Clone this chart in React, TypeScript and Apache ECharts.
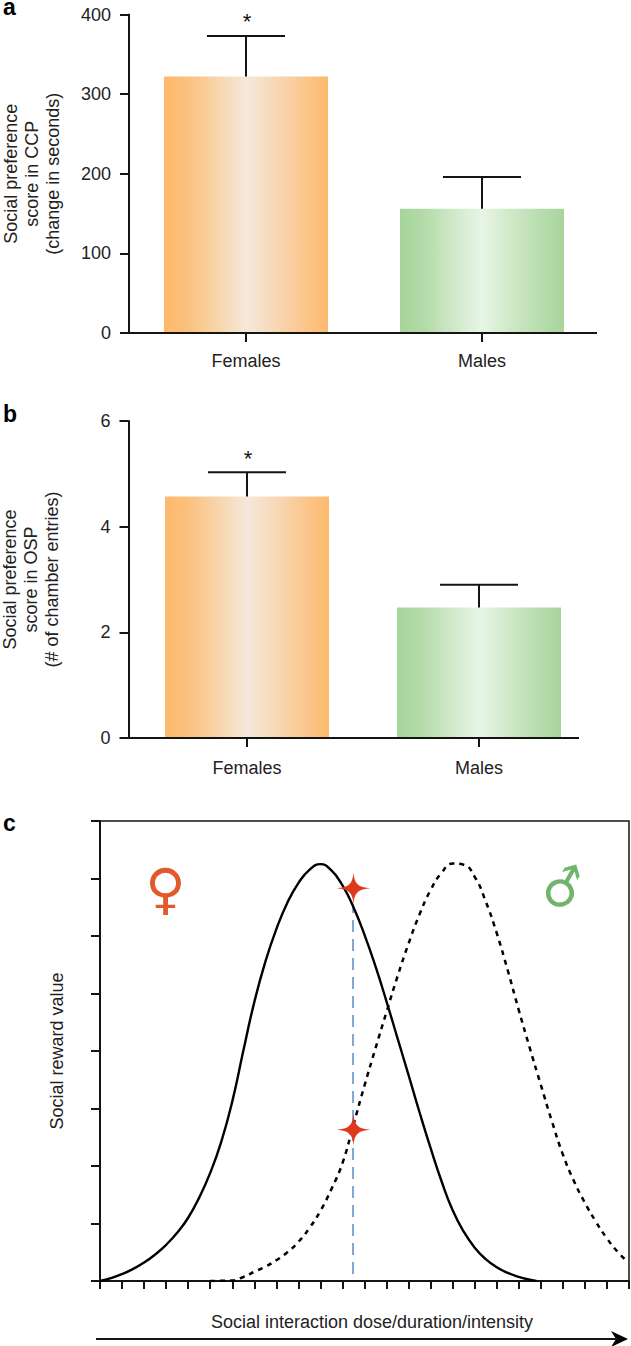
import React, { useEffect, useRef } from "react";
import * as echarts from "echarts";

const FONT = '"Liberation Sans", Arial, sans-serif';
const INK = "#141414";

const categories = ["Females", "Males"];
const ccpValues = [322, 156];
const ccpErrorTops = [373, 196];
const ccpSignificant = ["*", ""];
const ospValues = [4.57, 2.47];
const ospErrorTops = [5.03, 2.9];
const ospSignificant = ["*", ""];
const ccpTitle = "Social preference\nscore in CCP\n(change in seconds)";
const ospTitle = "Social preference\nscore in OSP\n(# of chamber entries)";

const femaleCurve: number[][] = [
  [0, 0], [0.5, 0.05], [1, 0.12], [1.5, 0.21], [2, 0.32], [2.5, 0.46], [3, 0.63], [3.5, 0.84], [4, 1.1],
  [4.5, 1.45], [5, 1.88], [5.5, 2.42], [6, 3.12], [6.5, 4.0], [7, 4.85], [7.5, 5.55], [8, 6.12], [8.5, 6.58],
  [9, 6.92], [9.5, 7.15], [10, 7.25], [10.5, 7.14], [11, 6.88], [11.5, 6.5], [12, 6.02], [12.5, 5.47],
  [13, 4.86], [13.5, 4.22], [14, 3.58], [14.5, 2.93], [15, 2.31], [15.5, 1.73], [16, 1.23], [16.5, 0.86],
  [17, 0.58], [17.5, 0.38], [18, 0.24], [18.5, 0.14], [19, 0.07], [19.4, 0.03], [19.8, 0],
];
const maleCurve: number[][] = [
  [5, 0], [6, 0.01], [6.5, 0.07], [7, 0.16], [7.5, 0.25], [8, 0.36], [8.5, 0.5], [9, 0.68], [9.5, 0.92],
  [10, 1.22], [10.5, 1.6], [11, 2.05], [11.5, 2.72], [12, 3.4], [12.5, 4.05], [13, 4.68], [13.5, 5.3],
  [14, 5.87], [14.5, 6.38], [15, 6.8], [15.5, 7.1], [16, 7.26], [16.5, 7.24], [17, 7.03], [17.5, 6.6],
  [18, 6.05], [18.5, 5.4], [19, 4.71], [19.5, 4.05], [20, 3.41], [20.5, 2.78], [21, 2.2], [21.5, 1.74],
  [22, 1.36], [22.5, 1.03], [23, 0.74], [23.5, 0.5], [23.9, 0.35],
];
const doseLine: number[][] = [[11.48, 0.12], [11.48, 6.54]];
const stars: number[][] = [[11.5, 6.83], [11.5, 2.63]];

const STAR = "path://M50 0C52 36 64 48 100 50C64 52 52 64 50 100C48 64 36 52 0 50C36 48 48 36 50 0Z";

const stops = (list: string[]) => list.map((color, i) => ({ offset: [0, 0.15, 0.32, 0.5, 0.68, 0.85, 1][i], color }));
const orange = new echarts.graphic.LinearGradient(0, 0, 1, 0,
  stops(["#fdb96c", "#fbc17f", "#f8d4aa", "#f5e8da", "#f7d8b6", "#fbc78f", "#fdb96a"]));
const green = new echarts.graphic.LinearGradient(0, 0, 1, 0,
  stops(["#a6d49a", "#b4dba9", "#cfe8c7", "#e8f5e7", "#d0e8c7", "#b9ddb0", "#a8d59c"]));

const barData = (vals: number[]) => vals.map((value, i) => ({
  value,
  itemStyle: { color: i === 0 ? orange : green },
}));

const errorRender = (params: any, api: any) => {
  const base = api.coord([api.value(0), api.value(1)]);
  const top = api.coord([api.value(0), api.value(2)]);
  const mark = params.dataIndex === 0 ? "*" : "";
  const style = { stroke: INK, lineWidth: 2, fill: "none" };
  const kids: any[] = [
    { type: "line", shape: { x1: base[0], y1: base[1], x2: base[0], y2: top[1] }, style },
    { type: "line", shape: { x1: base[0] - 39, y1: top[1], x2: base[0] + 39, y2: top[1] }, style },
  ];
  if (mark) {
    kids.push({
      type: "text",
      style: {
        text: mark, x: base[0] + 1, y: top[1] - 14, align: "center", verticalAlign: "middle",
        font: `22px ${FONT}`, fill: INK,
      },
    });
  }
  return { type: "group", children: kids };
};

const panelLabel = (text: string, y: number) => ({
  type: "text", x: 3, y,
  style: { text, font: `bold 23px ${FONT}`, fill: "#000", align: "left", verticalAlign: "middle", lineHeight: 14 },
});
const rule = (x1: number, y1: number, x2: number, y2: number) => ({
  type: "line", shape: { x1, y1, x2, y2 }, style: { stroke: INK, lineWidth: 2 }, z: 5,
});

const barYAxis = (gridIndex: number, max: number, interval: number, name: string, offset: number, nameGap: number) => ({
  type: "value", gridIndex, min: 0, max, interval, offset,
  name, nameLocation: "middle", nameGap, nameRotate: 90,
  nameTextStyle: { fontFamily: FONT, fontSize: 18, lineHeight: 21, color: "#222" },
  axisLine: { show: true, lineStyle: { color: INK, width: 2 } },
  axisTick: { show: true, length: 9, lineStyle: { color: INK, width: 2 } },
  axisLabel: { fontFamily: FONT, fontSize: 18, color: "#222", margin: 18 },
  splitLine: { show: false },
});
const barXAxis = (gridIndex: number, margin: number) => ({
  type: "category", gridIndex, data: categories,
  axisLine: { show: false },
  axisTick: { show: true, alignWithLabel: true, length: 9, lineStyle: { color: INK, width: 2 } },
  axisLabel: { fontFamily: FONT, fontSize: 18, color: "#222", margin },
});

export default function App() {
  const ref = useRef<HTMLDivElement>(null);
  useEffect(() => {
    document.body.style.margin = "0";
    const chart = echarts.init(ref.current!, null, { renderer: "svg" });
    chart.setOption({
      animation: false,
      backgroundColor: "#fff",
      grid: [
        { left: 128, top: 14.5, width: 472, height: 318.5, outerBoundsMode: "none" },
        { left: 131, top: 421, width: 464, height: 317, outerBoundsMode: "none" },
        { left: 100, top: 821, width: 529, height: 460, outerBoundsMode: "none", show: true, borderColor: INK, borderWidth: 1.5, backgroundColor: "transparent" },
      ],
      xAxis: [
        barXAxis(0, 19),
        barXAxis(1, 21),
        {
          type: "value", gridIndex: 2, min: 0, max: 24, interval: 1,
          name: "Social interaction dose/duration/intensity",
          nameLocation: "middle", nameGap: 32,
          nameTextStyle: { fontFamily: FONT, fontSize: 18, color: "#222", padding: [0, 0, 0, 15] },
          axisLine: { show: true, lineStyle: { color: INK, width: 2 } },
          axisTick: { show: true, length: 8, lineStyle: { color: INK, width: 2 } },
          axisLabel: { show: false },
          splitLine: { show: false },
        },
      ],
      yAxis: [
        barYAxis(0, 400, 100, ccpTitle, -1, 66),
        barYAxis(1, 6, 2, ospTitle, 2.5, 66),
        {
          type: "value", gridIndex: 2, min: 0, max: 8, interval: 1,
          name: "Social reward value",
          nameLocation: "middle", nameGap: 34, nameRotate: 90,
          nameTextStyle: { fontFamily: FONT, fontSize: 18, color: "#222" },
          axisLine: { show: true, lineStyle: { color: INK, width: 2 } },
          axisTick: { show: true, length: 9, lineStyle: { color: INK, width: 2 } },
          axisLabel: { show: false },
          splitLine: { show: false },
        },
      ],
      series: [
        { type: "bar", xAxisIndex: 0, yAxisIndex: 0, barWidth: 164, data: barData(ccpValues) },
        {
          type: "custom", xAxisIndex: 0, yAxisIndex: 0, renderItem: errorRender, z: 4,
          data: categories.map((_, i) => [i, ccpValues[i], ccpErrorTops[i], ccpSignificant[i]]),
        },
        { type: "bar", xAxisIndex: 1, yAxisIndex: 1, barWidth: 164, data: barData(ospValues) },
        {
          type: "custom", xAxisIndex: 1, yAxisIndex: 1, renderItem: errorRender, z: 4,
          data: categories.map((_, i) => [i, ospValues[i], ospErrorTops[i], ospSignificant[i]]),
        },
        {
          type: "line", xAxisIndex: 2, yAxisIndex: 2, data: doseLine, showSymbol: false, symbol: "none", z: 2,
          lineStyle: { color: "#7fa7d3", width: 2, type: [12, 7] },
        },
        {
          type: "line", xAxisIndex: 2, yAxisIndex: 2, data: maleCurve, smooth: 0.5, showSymbol: false, symbol: "none", z: 3,
          lineStyle: { color: "#000", width: 2.5, type: [5, 5] },
        },
        {
          type: "line", xAxisIndex: 2, yAxisIndex: 2, data: femaleCurve, smooth: 0.5, showSymbol: false, symbol: "none", z: 3,
          lineStyle: { color: "#000", width: 2.4 },
        },
        {
          type: "scatter", xAxisIndex: 2, yAxisIndex: 2, data: stars, symbol: STAR, symbolSize: [34, 32], z: 6,
          itemStyle: { color: "#e0381b", opacity: 1 },
        },
      ],
      graphic: [
        panelLabel("a", 7),
        panelLabel("b", 414),
        panelLabel("c", 823),
        rule(120, 333, 597, 333),
        rule(120, 738, 579, 738),
        rule(96, 1339, 618, 1339),
        {
          type: "polygon", shape: { points: [[628, 1339], [611, 1331], [616, 1339], [611, 1347]] },
          style: { fill: "#000" },
        },
        {
          type: "text", x: 165.5, y: 889,
          style: { text: "♀", font: '55px "DejaVu Sans"', fill: "#e2592b", align: "center", verticalAlign: "middle" },
        },
        {
          type: "text", x: 563, y: 888, rotation: 0.28,
          style: { text: "♂", font: '50px "DejaVu Sans"', fill: "#6fb56c", align: "center", verticalAlign: "middle" },
        },
      ],
    });
    return () => chart.dispose();
  }, []);
  return <div ref={ref} style={{ position: "absolute", left: 0, top: 0, width: 631, height: 1346 }} />;
}
